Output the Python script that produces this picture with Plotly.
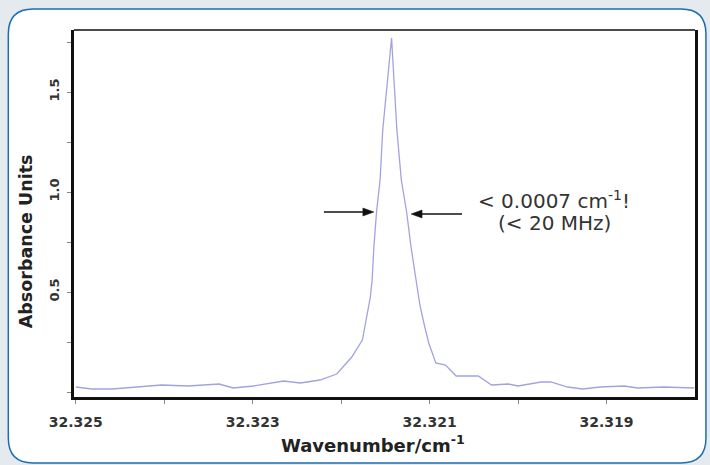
import plotly.graph_objects as go

# ---- data ----
wavenumber = [32.32500, 32.32482, 32.32459, 32.32434, 32.32403, 32.32373, 32.32338,
              32.32322, 32.32299, 32.32265, 32.32246, 32.32224, 32.32205, 32.32198,
              32.32188, 32.32176, 32.32174, 32.32167, 32.32165, 32.32163, 32.32160,
              32.32156, 32.32153, 32.32143,
              32.32137, 32.32132, 32.32126, 32.32121, 32.32115, 32.32111, 32.32106,
              32.32101, 32.32093, 32.32082, 32.32070,
              32.32045, 32.32030, 32.32011, 32.32000, 32.31974, 32.31963, 32.31944,
              32.31927, 32.31907, 32.31880, 32.31865, 32.31835, 32.31801]
absorbance = [0.025, 0.015, 0.015, 0.025, 0.035, 0.030, 0.040,
              0.020, 0.030, 0.055, 0.045, 0.060, 0.090, 0.125,
              0.175, 0.260, 0.310, 0.475, 0.560, 0.725, 0.900,
              1.060, 1.310, 1.770,
              1.310, 1.060, 0.900, 0.725, 0.550, 0.435, 0.335,
              0.245, 0.145, 0.135, 0.080,
              0.080, 0.035, 0.040, 0.030, 0.050, 0.050, 0.025,
              0.015, 0.025, 0.030, 0.020, 0.025, 0.020]

x_labelvals = [32.325, 32.323, 32.321, 32.319]
x_labeltext = ["32.325", "32.323", "32.321", "32.319"]
x_minorvals = [32.325, 32.324, 32.323, 32.322, 32.321, 32.320, 32.319]
y_labelvals = [0.5, 1.0, 1.5]
y_labeltext = ["0.5", "1.0", "1.5"]
y_minorvals = [0, 0.25, 0.5, 0.75, 1.0, 1.25, 1.5, 1.75]

x_title = "Wavenumber/cm<sup>-1</sup>"
y_title = "Absorbance Units"

# annotation anchor points (data coords)
left_arrow_head = (32.32163, 0.90)
right_arrow_head = (32.32121, 0.89)
label_line1 = (32.31959, 0.96)
label_line2 = (32.31959, 0.845)

W, H = 710, 465
ML, MR, MT, MB = 74, 12, 30, 68
pw, ph = W - ML - MR, H - MT - MB

def px(x):
    return (x - ML) / pw

def py(y):
    return (H - MB - y) / ph

# rounded panel path (pixel -> paper)
L, T, R, B, r = 8, 9, 709, 463, 25
path = (f"M {px(L+r)},{py(T)} L {px(R-r)},{py(T)} Q {px(R)},{py(T)} {px(R)},{py(T+r)} "
        f"L {px(R)},{py(B-r)} Q {px(R)},{py(B)} {px(R-r)},{py(B)} "
        f"L {px(L+r)},{py(B)} Q {px(L)},{py(B)} {px(L)},{py(B-r)} "
        f"L {px(L)},{py(T+r)} Q {px(L)},{py(T)} {px(L+r)},{py(T)} Z")

fig = go.Figure()
fig.add_trace(go.Scatter(x=wavenumber, y=absorbance, mode="lines",
                         line=dict(color="#a2a2e2", width=1.3), hoverinfo="skip"))

fig.add_shape(type="path", path=path, xref="paper", yref="paper", layer="below",
              fillcolor="white", line=dict(color="#1d6db2", width=1.5))
# top frame line
fig.add_shape(type="line", xref="paper", yref="paper", x0=0, x1=1, y0=1, y1=1,
              line=dict(color="#4a4a4a", width=2.2))

# arrows (line + filled head), sized in pixels around the data anchor
def arrow(head, direction, length):
    hx, hy = head
    d = direction  # +1: points right (tail on the left), -1: points left
    fig.add_shape(type="line", xref="x", yref="y", xsizemode="pixel", xanchor=hx,
                  x0=-d * length, x1=-d * 6, y0=hy, y1=hy,
                  line=dict(color="#111", width=1.6))
    fig.add_shape(type="path", xref="x", yref="y", xsizemode="pixel", ysizemode="pixel",
                  xanchor=hx, yanchor=hy,
                  path=f"M 0,0 L {-d*11},4 L {-d*11},-4 Z",
                  fillcolor="#111", line=dict(color="#111", width=0.5))

arrow(left_arrow_head, +1, 50)
arrow(right_arrow_head, -1, 51)

font = "DejaVu Sans, Verdana, sans-serif"

fig.add_annotation(x=label_line1[0], y=label_line1[1], showarrow=False,
                   text="&lt; 0.0007 cm<sup>-1</sup>!",
                   font=dict(family=font, size=20, color="#333"),
                   xanchor="center", yanchor="middle")
fig.add_annotation(x=label_line2[0], y=label_line2[1], showarrow=False,
                   text="(&lt; 20 MHz)",
                   font=dict(family=font, size=20, color="#333"),
                   xanchor="center", yanchor="middle")

fig.update_layout(
    width=W, height=H, autosize=False,
    margin=dict(l=ML, r=MR, t=MT, b=MB, pad=0),
    paper_bgcolor="#e5eaee", plot_bgcolor="white",
    showlegend=False,
    xaxis=dict(range=[32.32502, 32.31800], tickmode="array",
               tickvals=x_labelvals, ticktext=x_labeltext,
               showgrid=False, zeroline=False, showline=True, linecolor="#111",
               linewidth=2.5, ticks="outside", ticklen=4, tickcolor="#888",
               minor=dict(tickmode="array", tickvals=x_minorvals, ticks="outside",
                          ticklen=4, tickcolor="#888", showgrid=False),
               ticklabelstandoff=6,
               tickfont=dict(family=font, size=14, color="#333", weight="bold")),
    yaxis=dict(range=[-0.025, 1.81], tickmode="array",
               tickvals=y_labelvals, ticktext=y_labeltext,
               showgrid=False, zeroline=False, showline=True, linecolor="#111",
               linewidth=2.5, mirror=True, ticks="outside", ticklen=4, tickcolor="#888",
               minor=dict(tickmode="array", tickvals=y_minorvals, ticks="outside",
                          ticklen=4, tickcolor="#888", showgrid=False),
               tickangle=-90, ticklabelstandoff=3,
               tickfont=dict(family=font, size=13, color="#333", weight="bold")),
)
fig.add_annotation(x=px(374), y=py(444), xref="paper", yref="paper", showarrow=False,
                   text=x_title,
                   font=dict(family=font, size=18, color="#222", weight="bold"),
                   xanchor="center", yanchor="middle")
fig.add_annotation(x=px(26), y=py(241), xref="paper", yref="paper", showarrow=False,
                   text=y_title, textangle=-90,
                   font=dict(family=font, size=17.5, color="#222", weight="bold"),
                   xanchor="center", yanchor="middle")

fig.write_html("out.html", config={"displayModeBar": False},
               post_script="document.body.style.margin='0';document.body.style.overflow='hidden';")
